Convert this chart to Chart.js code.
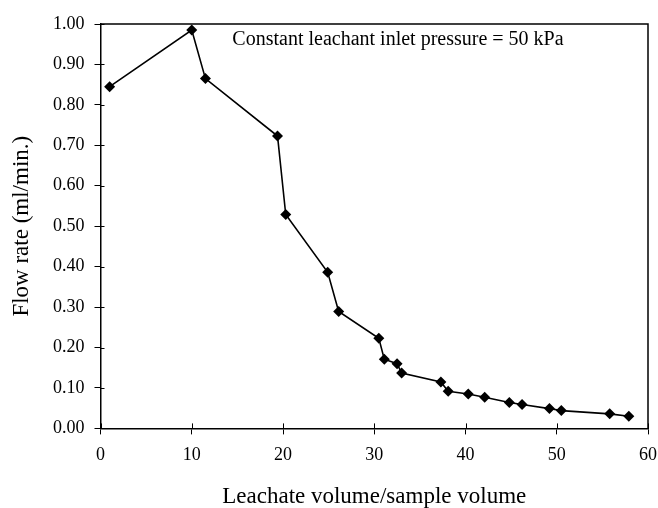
<!DOCTYPE html>
<html>
<head>
<meta charset="utf-8">
<script src="https://cdn.jsdelivr.net/npm/chart.js@4.4.0/dist/chart.umd.min.js"></script>
<style>
  html, body { margin: 0; padding: 0; background: #fff; }
  #wrap { width: 658px; height: 508px; }
</style>
</head>
<body>
<div id="wrap"><canvas id="flowChart" width="658" height="508"></canvas></div>
<script>
// leachate volume / sample volume
const volumeRatio = [1.0, 10.0, 11.5, 19.4, 20.3, 24.9, 26.1, 30.5, 31.1, 32.5, 33.0,
  37.3, 38.1, 40.3, 42.1, 44.8, 46.2, 49.2, 50.5, 55.8, 57.9];
// flow rate (ml/min.)
const flowRate = [0.845, 0.985, 0.865, 0.723, 0.529, 0.386, 0.289, 0.223, 0.171, 0.160, 0.137,
  0.115, 0.092, 0.085, 0.077, 0.064, 0.059, 0.049, 0.044, 0.036, 0.030];
const xTicks = [0, 10, 20, 30, 40, 50, 60];
const yTicks = [0, 0.1, 0.2, 0.3, 0.4, 0.5, 0.6, 0.7, 0.8, 0.9, 1.0];
const noteText = 'Constant leachant inlet pressure = 50 kPa';

const serif = '"Liberation Serif", "Times New Roman", serif';

// frame on top/right, inner halves of the tick marks, and the note
const framePlugin = {
  id: 'frame',
  afterDraw(chart) {
    const {ctx, chartArea: a, scales} = chart;
    ctx.save();
    ctx.strokeStyle = '#000';
    ctx.lineWidth = 1.5;
    ctx.beginPath();
    ctx.moveTo(a.left, a.top);
    ctx.lineTo(a.right, a.top);
    ctx.lineTo(a.right, a.bottom);
    ctx.stroke();
    ctx.lineWidth = 1;
    ctx.beginPath();
    xTicks.forEach(v => {
      const px = Math.round(scales.x.getPixelForValue(v)) + 0.5;
      ctx.moveTo(px, a.bottom);
      ctx.lineTo(px, a.bottom - 5);
    });
    yTicks.forEach(v => {
      const py = Math.round(scales.y.getPixelForValue(v)) + 0.5;
      ctx.moveTo(a.left, py);
      ctx.lineTo(a.left + 4, py);
    });
    ctx.stroke();
    ctx.fillStyle = '#000';
    ctx.font = '20px ' + serif;
    ctx.textAlign = 'center';
    ctx.textBaseline = 'middle';
    ctx.fillText(noteText, scales.x.getPixelForValue(32.6), a.top + 16);
    ctx.restore();
  }
};

new Chart(document.getElementById('flowChart'), {
  type: 'scatter',
  data: {
    datasets: [{
      data: volumeRatio.map((v, i) => ({x: v, y: flowRate[i]})),
      showLine: true,
      borderColor: '#000',
      backgroundColor: '#000',
      borderWidth: 1.6,
      pointStyle: 'rectRot',
      pointRadius: 5.5,
      pointBorderWidth: 0
    }]
  },
  options: {
    responsive: false,
    animation: false,
    layout: {padding: {top: 24, right: 10, left: 10, bottom: 0}},
    plugins: {legend: {display: false}, tooltip: {enabled: false}},
    scales: {
      x: {
        type: 'linear',
        min: 0,
        max: 60,
        afterBuildTicks: s => { s.ticks = xTicks.map(v => ({value: v})); },
        // let the last label hang into the right margin
        afterFit: s => { s.paddingRight = 0; },
        ticks: {color: '#000', font: {family: serif, size: 18}, padding: 10, maxRotation: 0},
        grid: {drawOnChartArea: false, tickLength: 6, color: '#000', lineWidth: 1},
        border: {color: '#000', width: 1.5},
        title: {display: true, text: 'Leachate volume/sample volume', color: '#000',
          font: {family: serif, size: 23, lineHeight: 1}, padding: {top: 9, bottom: 0}}
      },
      y: {
        min: 0,
        max: 1,
        afterBuildTicks: s => { s.ticks = yTicks.map(v => ({value: v})); },
        ticks: {color: '#000', font: {family: serif, size: 18}, padding: 10,
          callback: v => v.toFixed(2)},
        grid: {drawOnChartArea: false, tickLength: 6, color: '#000', lineWidth: 1},
        border: {color: '#000', width: 1.5},
        title: {display: true, text: 'Flow rate (ml/min.)', color: '#000',
          font: {family: serif, size: 23, lineHeight: 1}, padding: {top: 0, bottom: 10}}
      }
    }
  },
  plugins: [framePlugin]
});
</script>
</body>
</html>
